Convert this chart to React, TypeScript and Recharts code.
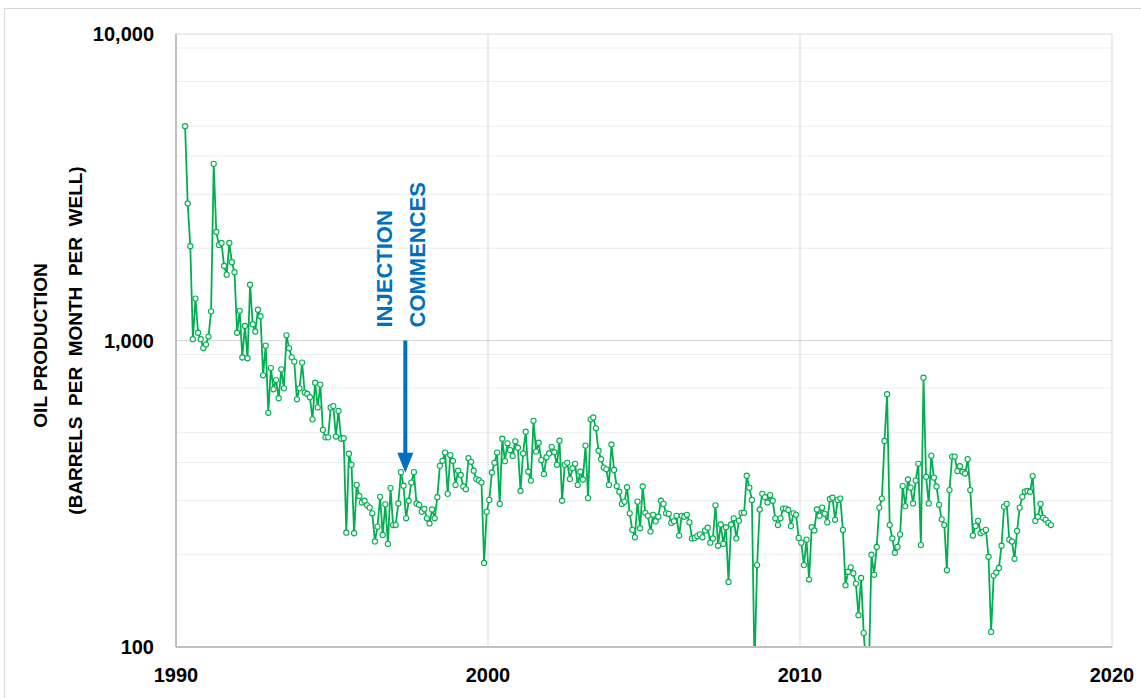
import {
  LineChart,
  Line,
  XAxis,
  YAxis,
  CartesianGrid,
  ReferenceLine,
} from "recharts";

// monthly oil production per well, first reading in April 1990
const startYear = 1990;
const startMonth = 3; // 0-based: April
const oilValues = [
  5000, 2800, 2030, 1010, 1370, 1060, 1010, 945, 970, 1030,
  1245, 3770, 2260, 2050, 2080, 1750, 1640, 2080, 1800, 1670,
  1060, 1250, 880, 1115, 875, 1520, 1130, 1070, 1260, 1200,
  770, 962, 581, 813, 693, 743, 648, 805, 698, 1040,
  943, 881, 853, 643, 698, 847, 676, 669, 653, 553,
  728, 605, 718, 511, 483, 483, 605, 611, 486, 589,
  478, 480, 236, 427, 393, 235, 338, 311, 296, 300,
  290, 285, 273, 221, 247, 309, 232, 292, 217, 330,
  250, 250, 294, 372, 336, 263, 300, 344, 372, 294,
  291, 276, 282, 263, 253, 281, 263, 308, 390, 405,
  431, 316, 423, 405, 338, 376, 364, 334, 327, 413,
  402, 376, 353, 350, 344, 188, 276, 302, 371, 399,
  431, 293, 478, 404, 462, 439, 420, 469, 447, 323,
  428, 504, 373, 349, 547, 434, 464, 407, 367, 416,
  428, 450, 432, 393, 471, 300, 393, 399, 353, 383,
  396, 338, 373, 352, 454, 306, 553, 561, 517, 437,
  410, 385, 380, 338, 458, 378, 335, 321, 293, 298,
  332, 273, 241, 228, 298, 244, 334, 274, 268, 238,
  270, 257, 266, 300, 293, 273, 272, 254, 257, 268,
  231, 268, 266, 270, 255, 226, 227, 230, 233, 228,
  240, 245, 219, 226, 290, 214, 251, 217, 246, 163,
  251, 263, 226, 258, 274, 274, 362, 331, 302, 85,
  185, 281, 316, 308, 296, 313, 300, 263, 250, 263,
  283, 283, 280, 248, 273, 270, 227, 219, 185, 224,
  166, 246, 240, 281, 268, 285, 272, 255, 304, 307,
  260, 302, 305, 241, 159, 176, 182, 174, 161, 127,
  168, 111, 85, 85, 200, 172, 212, 285, 305, 470,
  668, 250, 226, 203, 212, 233, 335, 288, 352, 331,
  294, 349, 396, 215, 756, 359, 294, 421, 357, 334,
  291, 261, 250, 178, 325, 418, 418, 375, 389, 373,
  368, 410, 325, 231, 248, 258, 235, 238, 241, 197,
  112, 171, 175, 181, 214, 287, 293, 224, 221, 194,
  239, 285, 309, 321, 323, 321, 361, 258, 266, 293,
  264, 260, 254, 250,
];

const xTicks = [1990, 2000, 2010, 2020];
const yTicks = [100, 1000, 10000];
const minorGrid = [200, 300, 400, 500, 600, 700, 800, 900, 2000, 3000, 4000, 5000, 6000, 7000, 8000, 9000];
const majorGrid = [1000, 10000];
const majorGridX = [2000, 2010, 2020];

// injection start marker
const injectionYear = 1997.35;
const arrowFrom = 1000;
const arrowTo = 370;

const data = oilValues.map((v, i) => ({
  t: startYear + (startMonth + i + 0.5) / 12,
  v,
}));

const FONT = '"Liberation Sans", Arial, sans-serif';
const GREEN = "#00B050";
const BLUE = "#0070C0";

const fmt = (v: number) => v.toLocaleString("en-US");

function YTitle(props: any) {
  const { viewBox } = props;
  const cy = viewBox.y + viewBox.height / 2;
  const x1 = viewBox.x + 40;
  const x2 = viewBox.x + 75;
  return (
    <g fontFamily={FONT} fontWeight="bold" fontSize={19} fill="#000">
      <text x={x1} y={cy + 5} transform={`rotate(-90 ${x1} ${cy + 5})`} textAnchor="middle" dominantBaseline="central">
        OIL PRODUCTION
      </text>
      <text x={x2} y={cy} transform={`rotate(-90 ${x2} ${cy})`} textAnchor="middle" dominantBaseline="central" style={{ whiteSpace: "pre" }}>
        {"(BARRELS  PER  MONTH  PER  WELL)"}
      </text>
    </g>
  );
}

function InjectionArrow(props: any) {
  const { x1, y1, y2 } = props;
  const head = 20;
  const bx1 = x1 - 13;
  const bx2 = x1 + 20;
  const by = y1 - 13;
  return (
    <g>
      <line x1={x1} y1={y1} x2={x1} y2={y2 - head + 2} stroke={BLUE} strokeWidth={4} />
      <polygon points={`${x1 - 8},${y2 - head} ${x1 + 8},${y2 - head} ${x1},${y2}`} fill={BLUE} />
      <g fontFamily={FONT} fontWeight="bold" fontSize={22} fill={BLUE}>
        <text x={bx1} y={by} transform={`rotate(-90 ${bx1} ${by})`} textAnchor="start">
          INJECTION
        </text>
        <text x={bx2} y={by} transform={`rotate(-90 ${bx2} ${by})`} textAnchor="start">
          COMMENCES
        </text>
      </g>
    </g>
  );
}

export default function App() {
  return (
    <div style={{ position: "absolute", left: 0, top: 0, width: 1141, height: 698, overflow: "hidden", background: "#fff" }}>
      <div
        style={{
          position: "absolute",
          left: 4,
          top: 8,
          width: 1160,
          height: 720,
          border: "1px solid #d9d9d9",
        }}
      />
      <div style={{ position: "absolute", left: 0, top: 0 }}>
        <LineChart width={1141} height={698} data={data} margin={{ top: 34, right: 29, bottom: 0, left: 0 }}>
          <CartesianGrid horizontalValues={minorGrid} vertical={false} stroke="#ececec" strokeWidth={1} />
          <CartesianGrid horizontalValues={majorGrid} verticalValues={majorGridX} stroke="#d9d9d9" strokeWidth={1} />
          <XAxis
            dataKey="t"
            type="number"
            domain={[1990, 2020]}
            ticks={xTicks}
            tickLine={false}
            tickSize={0}
            tickMargin={21}
            height={51}
            stroke="#bfbfbf"
            strokeWidth={2}
            tick={{ fill: "#000", fontFamily: FONT, fontWeight: "bold", fontSize: 20 }}
          />
          <YAxis
            dataKey="v"
            scale="log"
            domain={[100, 10000]}
            allowDataOverflow
            ticks={yTicks}
            tickFormatter={fmt}
            tickLine={false}
            tickSize={0}
            tickMargin={22}
            width={176}
            stroke="#bfbfbf"
            strokeWidth={2}
            tick={{ fill: "#000", fontFamily: FONT, fontWeight: "bold", fontSize: 20 }}
            label={<YTitle />}
          />
          <ReferenceLine
            segment={[
              { x: injectionYear, y: arrowFrom },
              { x: injectionYear, y: arrowTo },
            ]}
            shape={<InjectionArrow />}
          />
          <Line
            type="linear"
            dataKey="v"
            stroke={GREEN}
            strokeWidth={1.8}
            dot={{ r: 2.6, stroke: GREEN, strokeWidth: 1.1, fill: "#fff" }}
            isAnimationActive={false}
          />
        </LineChart>
      </div>
    </div>
  );
}
